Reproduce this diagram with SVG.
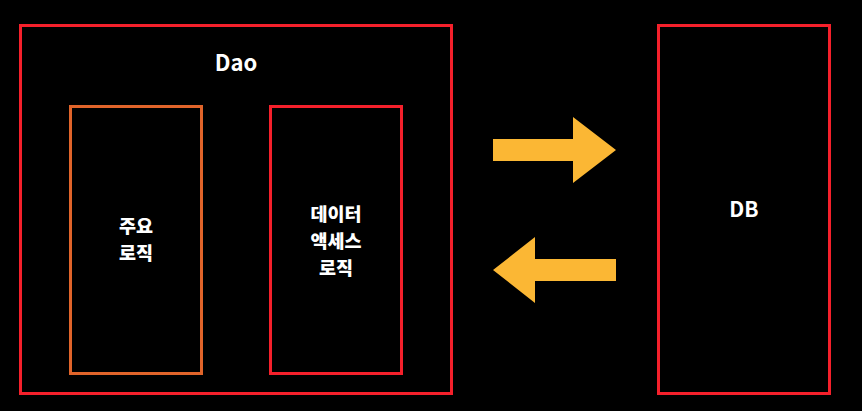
<svg xmlns="http://www.w3.org/2000/svg" width="862" height="411" viewBox="0 0 862 411">
<style>
.box{fill:none;stroke-width:3}
.red{stroke:#f5202b}
.orange{stroke:#e0642a}
.t{fill:#fff;font-family:"Noto Sans CJK KR","Noto Sans",sans-serif;font-weight:700;text-anchor:middle}
.k{font-size:18.5px;font-weight:900}
.arrow{fill:#fbb734}
</style>
<rect width="862" height="411" fill="#000"/>
<g id="dao">
<rect class="box red" x="20.5" y="25.5" width="431" height="368"/>
<text class="t" x="236" y="71" font-size="22">Dao</text>
</g>
<g id="main-logic">
<rect class="box orange" x="70.5" y="106.5" width="131" height="267"/>
<text class="t k"><tspan x="136" y="233">주요</tspan><tspan x="136" y="260">로직</tspan></text>
</g>
<g id="data-access">
<rect class="box red" x="270.5" y="106.5" width="131" height="267"/>
<text class="t k"><tspan x="336" y="221">데이터</tspan><tspan x="336" y="248">액세스</tspan><tspan x="336" y="275">로직</tspan></text>
</g>
<g id="db">
<rect class="box red" x="658.5" y="25.5" width="171" height="368"/>
<text class="t" x="744" y="217" font-size="21">DB</text>
</g>
<g id="connectors">
<polygon class="arrow" points="493,139 573,139 573,117 616,150 573,183 573,161 493,161"/>
<polygon class="arrow" points="616,259 535,259 535,237 493,270 535,303 535,281 616,281"/>
</g>
</svg>
